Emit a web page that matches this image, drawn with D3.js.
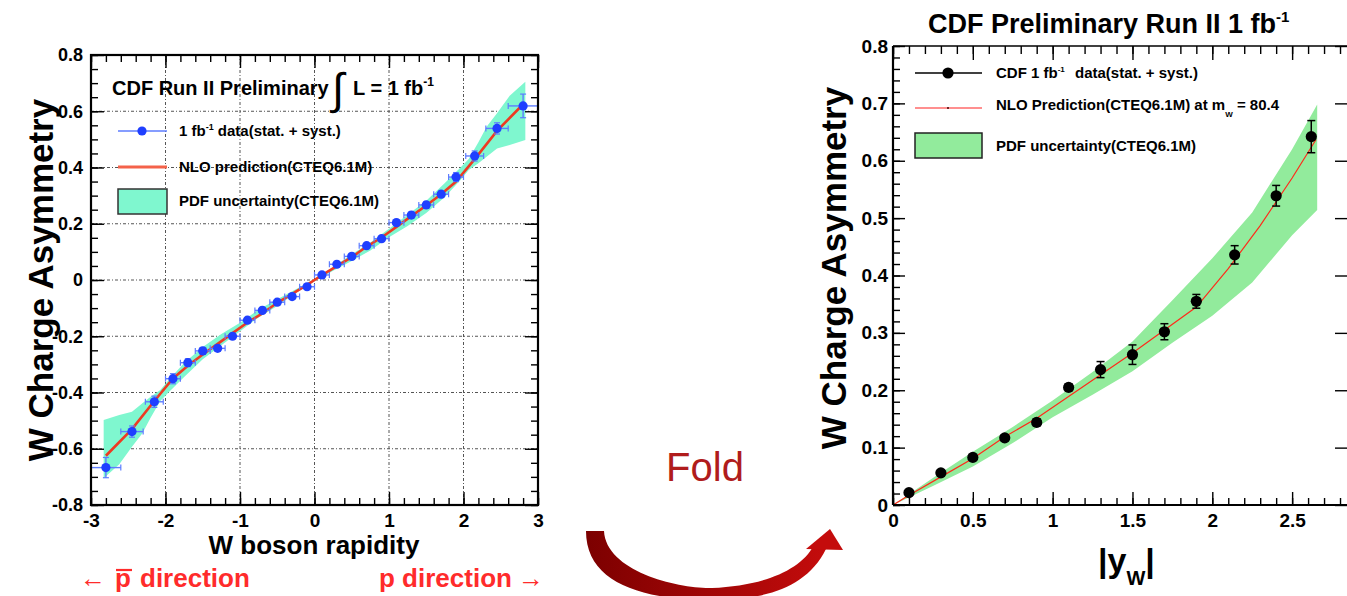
<!DOCTYPE html>
<html>
<head>
<meta charset="utf-8">
<script src="https://cdn.jsdelivr.net/npm/d3@7"></script>
<style>
  body { margin: 0; background: #fff; }
  svg text { font-family: "Liberation Sans", Arial, Helvetica, sans-serif; }
</style>
</head>
<body>
<svg id="chart" width="1347" height="596"></svg>
<script>
// ---------- W charge asymmetry vs signed W rapidity ----------
const rapidity   = [-2.8,-2.45,-2.15,-1.9,-1.7,-1.5,-1.3,-1.1,-0.9,-0.7,-0.5,-0.3,-0.1,
                     0.1, 0.3, 0.5, 0.7, 0.9, 1.1, 1.3, 1.5, 1.7, 1.9, 2.15, 2.45, 2.8];
const asymmetry  = [-0.667,-0.539,-0.433,-0.351,-0.294,-0.252,-0.243,-0.200,-0.143,-0.108,-0.079,-0.059,-0.024,
                     0.018, 0.056, 0.084, 0.122, 0.147, 0.204, 0.231, 0.267, 0.305, 0.366, 0.441, 0.539, 0.619];
const asymErr    = [0.036,0.020,0.020,0.018,0.014,0.012,0.010,0.008,0.008,0.008,0.008,0.008,0.008,
                    0.008,0.008,0.008,0.008,0.008,0.008,0.010,0.012,0.012,0.016,0.018,0.020,0.042];
const rapErr     = [0.20,0.15,0.12,0.10,0.10,0.10,0.10,0.10,0.10,0.10,0.10,0.10,0.10,
                    0.10,0.10,0.10,0.10,0.10,0.10,0.10,0.10,0.10,0.10,0.12,0.15,0.20];

// NLO prediction (CTEQ6.1M)
const nloRap  = [-2.8,-2.45,-2.15,-1.9,-1.7,-1.5,-1.3,-1.1,-0.9,-0.7,-0.5,-0.3,-0.1,0,
                  0.1,0.3,0.5,0.7,0.9,1.1,1.3,1.5,1.7,1.9,2.15,2.45,2.8];
const nloAsym = [-0.625,-0.53,-0.43,-0.35,-0.305,-0.265,-0.227,-0.189,-0.151,-0.119,-0.081,-0.049,-0.017,0,
                  0.017,0.049,0.081,0.119,0.151,0.189,0.227,0.265,0.305,0.35,0.43,0.53,0.625];

// PDF uncertainty band (CTEQ6.1M)
const pdfRap  = [-2.83,-2.62,-2.45,-2.31,-2.2,-2.07,-1.96,-1.75,-1.5,-1.25,-1.0,-0.75,-0.5,-0.25,0,
                  0.25,0.5,0.75,1.0,1.25,1.5,1.75,1.96,2.07,2.2,2.31,2.45,2.62,2.83];
const pdfLow  = [-0.705,-0.655,-0.593,-0.545,-0.49,-0.43,-0.40,-0.345,-0.282,-0.232,-0.182,-0.133,-0.092,-0.046,-0.004,
                  0.033,0.068,0.105,0.152,0.192,0.238,0.295,0.356,0.391,0.415,0.438,0.468,0.48,0.498];
const pdfHigh = [-0.498,-0.48,-0.468,-0.438,-0.415,-0.391,-0.356,-0.295,-0.238,-0.192,-0.152,-0.105,-0.068,-0.033,0.004,
                  0.046,0.092,0.133,0.182,0.232,0.282,0.345,0.40,0.43,0.49,0.545,0.593,0.655,0.705];

// ---------- folded: W charge asymmetry vs |y_W| ----------
const absRap     = [0.1,0.3,0.5,0.7,0.9,1.1,1.3,1.5,1.7,1.9,2.14,2.4,2.62];
const absAsym    = [0.0215,0.056,0.083,0.117,0.144,0.205,0.236,0.262,0.302,0.355,0.436,0.539,0.642];
const absAsymErr = [0.004,0.005,0.005,0.005,0.006,0.006,0.014,0.017,0.014,0.012,0.016,0.018,0.028];

const absNloRap  = [0,0.1,0.3,0.5,0.7,0.9,1.1,1.3,1.5,1.7,1.9,2.1,2.3,2.5,2.65];
const absNloAsym = [0,0.017,0.049,0.081,0.119,0.151,0.189,0.227,0.265,0.305,0.345,0.412,0.487,0.57,0.637];

const absPdfRap  = [0,0.25,0.5,0.75,1.0,1.25,1.5,1.75,2.0,2.25,2.5,2.657];
const absPdfLow  = [0,0.033,0.067,0.108,0.153,0.192,0.233,0.283,0.33,0.388,0.47,0.514];
const absPdfHigh = [0,0.047,0.093,0.136,0.182,0.232,0.285,0.357,0.43,0.51,0.62,0.698];

// ---------- tick labels ----------
const leftXTicks = [-3,-2,-1,0,1,2,3];
const leftXTickLabels = ["-3","-2","-1","0","1","2","3"];
const leftYTicks = [-0.8,-0.6,-0.4,-0.2,0,0.2,0.4,0.6,0.8];
const leftYTickLabels = ["-0.8","-0.6","-0.4","-0.2","0","0.2","0.4","0.6","0.8"];
const rightXTicks = [0,0.5,1,1.5,2,2.5];
const rightXTickLabels = ["0","0.5","1","1.5","2","2.5"];
const rightYTicks = [0,0.1,0.2,0.3,0.4,0.5,0.6,0.7,0.8];
const rightYTickLabels = ["0","0.1","0.2","0.3","0.4","0.5","0.6","0.7","0.8"];

// ---------- styles ----------
const LEFT_BAND = "#7ff7cf";
const RIGHT_BAND = "#92eb9c";
const BLUE = "#1f3fff";
const BLUE_ERR = "#5e7dff";
const TICK_FONT = 19;

const svg = d3.select("#chart");
svg.append("rect").attr("width", 1347).attr("height", 596).attr("fill", "#fff");

function styleAxis(sel, fontSize) {
  sel.select(".domain").remove();
  sel.selectAll(".tick line").attr("stroke", "#000").attr("stroke-width", 1.4);
  sel.selectAll(".tick text")
    .attr("fill", "#000")
    .attr("font-size", fontSize)
    .attr("font-weight", "bold")
    .attr("font-family", "'Liberation Sans', Arial, sans-serif");
}

function addAxis(parent, axis, tx, ty, fontSize) {
  parent.append("g").attr("transform", `translate(${tx},${ty})`)
    .call(axis).call(s => styleAxis(s, fontSize || TICK_FONT));
}

// =================== signed rapidity panel ===================
const xL = d3.scaleLinear().domain([-3, 3]).range([91, 538]);
const yL = d3.scaleLinear().domain([-0.8, 0.8]).range([505, 55]);
const gL = svg.append("g");

// dotted grid
gL.append("g").selectAll("line").data(leftXTicks.slice(1, -1)).join("line")
  .attr("x1", d => xL(d)).attr("x2", d => xL(d))
  .attr("y1", yL(-0.8)).attr("y2", yL(0.8))
  .attr("stroke", "#555").attr("stroke-width", 1).attr("stroke-dasharray", "3,2,1,2");
gL.append("g").selectAll("line").data(leftYTicks.slice(1, -1)).join("line")
  .attr("x1", xL(-3)).attr("x2", xL(3))
  .attr("y1", d => yL(d)).attr("y2", d => yL(d))
  .attr("stroke", "#555").attr("stroke-width", 1).attr("stroke-dasharray", "3,2,1,2");

// PDF band
const bandL = pdfRap.map((x, i) => ({ x, lo: pdfLow[i], hi: pdfHigh[i] }));
gL.append("path").datum(bandL)
  .attr("d", d3.area().x(d => xL(d.x)).y0(d => yL(d.lo)).y1(d => yL(d.hi)))
  .attr("fill", LEFT_BAND);

// NLO line
const nloL = nloRap.map((x, i) => ({ x, y: nloAsym[i] }));
gL.append("path").datum(nloL)
  .attr("d", d3.line().x(d => xL(d.x)).y(d => yL(d.y)))
  .attr("fill", "none").attr("stroke", "#ee3a22").attr("stroke-width", 2.6);

// data points with error bars
const ptsL = rapidity.map((x, i) => ({ x, y: asymmetry[i], ex: rapErr[i], ey: asymErr[i] }));
const pL = gL.append("g").selectAll("g").data(ptsL).join("g");
pL.append("line")
  .attr("x1", d => xL(d.x - d.ex)).attr("x2", d => xL(d.x + d.ex))
  .attr("y1", d => yL(d.y)).attr("y2", d => yL(d.y))
  .attr("stroke", BLUE_ERR).attr("stroke-width", 1.4);
pL.append("line")
  .attr("x1", d => xL(d.x)).attr("x2", d => xL(d.x))
  .attr("y1", d => yL(d.y - d.ey)).attr("y2", d => yL(d.y + d.ey))
  .attr("stroke", BLUE_ERR).attr("stroke-width", 1.4);
[-1, 1].forEach(s => {
  pL.append("line")
    .attr("x1", d => xL(d.x + s * d.ex)).attr("x2", d => xL(d.x + s * d.ex))
    .attr("y1", d => yL(d.y) - 3).attr("y2", d => yL(d.y) + 3)
    .attr("stroke", BLUE_ERR).attr("stroke-width", 1.2);
  pL.append("line")
    .attr("x1", d => xL(d.x) - 3).attr("x2", d => xL(d.x) + 3)
    .attr("y1", d => yL(d.y + s * d.ey)).attr("y2", d => yL(d.y + s * d.ey))
    .attr("stroke", BLUE_ERR).attr("stroke-width", 1.2);
});
pL.append("circle")
  .attr("cx", d => xL(d.x)).attr("cy", d => yL(d.y)).attr("r", 4.6)
  .attr("fill", BLUE);

// ticks (inward, on all four sides)
const lxMinor = d3.range(-3, 3.001, 0.2);
const lyMinor = d3.range(-0.8, 0.8001, 0.05);
addAxis(gL, d3.axisBottom(xL).tickValues(leftXTicks).tickFormat((d, i) => leftXTickLabels[i]).tickSize(-13).tickSizeOuter(0).tickPadding(9), 0, 505);
addAxis(gL, d3.axisBottom(xL).tickValues(lxMinor).tickFormat("").tickSize(-7).tickSizeOuter(0), 0, 505);
addAxis(gL, d3.axisTop(xL).tickValues(leftXTicks).tickFormat("").tickSize(-13).tickSizeOuter(0), 0, 55);
addAxis(gL, d3.axisTop(xL).tickValues(lxMinor).tickFormat("").tickSize(-7).tickSizeOuter(0), 0, 55);
addAxis(gL, d3.axisLeft(yL).tickValues(leftYTicks).tickFormat((d, i) => leftYTickLabels[i]).tickSize(-13).tickSizeOuter(0).tickPadding(8), 91, 0, 18);
addAxis(gL, d3.axisLeft(yL).tickValues(lyMinor).tickFormat("").tickSize(-7).tickSizeOuter(0), 91, 0);
addAxis(gL, d3.axisRight(yL).tickValues(leftYTicks).tickFormat("").tickSize(-13).tickSizeOuter(0), 538, 0);
addAxis(gL, d3.axisRight(yL).tickValues(lyMinor).tickFormat("").tickSize(-7).tickSizeOuter(0), 538, 0);

// frame
gL.append("rect").attr("x", xL(-3)).attr("y", yL(0.8))
  .attr("width", xL(3) - xL(-3)).attr("height", yL(-0.8) - yL(0.8))
  .attr("fill", "none").attr("stroke", "#000").attr("stroke-width", 2.2);

// axis titles
gL.append("text").attr("transform", "translate(53,280) rotate(-90)")
  .attr("text-anchor", "middle").attr("font-size", 35).attr("font-weight", "bold")
  .text("W Charge Asymmetry");
gL.append("text").attr("x", 314).attr("y", 554)
  .attr("text-anchor", "middle").attr("font-size", 26).attr("font-weight", "bold")
  .text("W boson rapidity");

// direction hints
const RED = "#ff2b2b";
gL.append("text").attr("x", 80).attr("y", 587).attr("fill", RED).attr("font-size", 26).text("\u2190");
gL.append("text").attr("x", 115).attr("y", 587).attr("fill", RED).attr("font-size", 26).attr("font-weight", "bold").text("p");
gL.append("line").attr("x1", 116).attr("x2", 132).attr("y1", 570).attr("y2", 570).attr("stroke", RED).attr("stroke-width", 2.2);
gL.append("text").attr("x", 140).attr("y", 587).attr("fill", RED).attr("font-size", 26).attr("font-weight", "bold").text("direction");
gL.append("text").attr("x", 379).attr("y", 587).attr("fill", RED).attr("font-size", 26).attr("font-weight", "bold").text("p direction");
gL.append("text").attr("x", 518).attr("y", 587).attr("fill", RED).attr("font-size", 26).text("\u2192");

// legend
const lg = gL.append("g");
lg.append("text").attr("x", 112).attr("y", 95).attr("font-size", 20).attr("font-weight", "bold")
  .text("CDF Run II Preliminary");
lg.append("text").attr("x", 332).attr("y", 104).attr("font-size", 44).attr("font-family", "'DejaVu Sans', sans-serif")
  .text("\u222B");
const lumi = lg.append("text").attr("x", 353).attr("y", 95).attr("font-size", 20).attr("font-weight", "bold");
lumi.append("tspan").text("L = 1 fb");
lumi.append("tspan").attr("dy", -9).attr("font-size", 12).text("-1");

lg.append("line").attr("x1", 118).attr("x2", 167).attr("y1", 131).attr("y2", 131).attr("stroke", BLUE_ERR).attr("stroke-width", 1.5);
lg.append("circle").attr("cx", 142).attr("cy", 131).attr("r", 4.6).attr("fill", BLUE);
const t1 = lg.append("text").attr("x", 179).attr("y", 136).attr("font-size", 15).attr("font-weight", "bold");
t1.append("tspan").text("1 fb");
t1.append("tspan").attr("dy", -6).attr("font-size", 9).text("-1");
t1.append("tspan").attr("dy", 6).text(" data(stat. + syst.)");

lg.append("line").attr("x1", 118).attr("x2", 167).attr("y1", 167).attr("y2", 167).attr("stroke", "#f4624a").attr("stroke-width", 3);
lg.append("text").attr("x", 179).attr("y", 172).attr("font-size", 15).attr("font-weight", "bold")
  .text("NLO prediction(CTEQ6.1M)");

lg.append("rect").attr("x", 118).attr("y", 189).attr("width", 49).attr("height", 25)
  .attr("fill", LEFT_BAND).attr("stroke", "#333").attr("stroke-width", 1.5);
lg.append("text").attr("x", 179).attr("y", 206).attr("font-size", 15).attr("font-weight", "bold")
  .text("PDF uncertainty(CTEQ6.1M)");

// =================== fold arrow ===================
const grad = svg.append("defs").append("linearGradient").attr("id", "foldGrad")
  .attr("x1", "0%").attr("x2", "100%").attr("y1", "0%").attr("y2", "0%");
grad.append("stop").attr("offset", "0%").attr("stop-color", "#7c0000");
grad.append("stop").attr("offset", "100%").attr("stop-color", "#c40c0c");
svg.append("path")
  .attr("d", "M586,531 L604,531 C606,572 680,589 712,588 C760,586 800,572 814,545 L826,549 C806,590 760,600 712,600 C640,600 586,582 586,531 Z")
  .attr("fill", "url(#foldGrad)");
svg.append("path").attr("d", "M806,549 L830,529 L843,550 Z").attr("fill", "#c40c0c");
svg.append("text").attr("x", 705).attr("y", 481).attr("text-anchor", "middle")
  .attr("font-size", 40).attr("fill", "#b01c1c").text("Fold");

// =================== folded |y_W| panel ===================
const xR = d3.scaleLinear().domain([0, 2.85]).range([893, 1348]);
const yR = d3.scaleLinear().domain([0, 0.8]).range([505, 46]);
const gR = svg.append("g");

const bandR = absPdfRap.map((x, i) => ({ x, lo: absPdfLow[i], hi: absPdfHigh[i] }));
gR.append("path").datum(bandR)
  .attr("d", d3.area().x(d => xR(d.x)).y0(d => yR(d.lo)).y1(d => yR(d.hi)))
  .attr("fill", RIGHT_BAND);

const nloR = absNloRap.map((x, i) => ({ x, y: absNloAsym[i] }));
gR.append("path").datum(nloR)
  .attr("d", d3.line().x(d => xR(d.x)).y(d => yR(d.y)))
  .attr("fill", "none").attr("stroke", "#ff2a1a").attr("stroke-width", 1.2);

const ptsR = absRap.map((x, i) => ({ x, y: absAsym[i], ey: absAsymErr[i] }));
const pR = gR.append("g").selectAll("g").data(ptsR).join("g");
pR.append("line")
  .attr("x1", d => xR(d.x)).attr("x2", d => xR(d.x))
  .attr("y1", d => yR(d.y - d.ey)).attr("y2", d => yR(d.y + d.ey))
  .attr("stroke", "#000").attr("stroke-width", 1.5);
[-1, 1].forEach(s => {
  pR.append("line")
    .attr("x1", d => xR(d.x) - 4).attr("x2", d => xR(d.x) + 4)
    .attr("y1", d => yR(d.y + s * d.ey)).attr("y2", d => yR(d.y + s * d.ey))
    .attr("stroke", "#000").attr("stroke-width", 1.5);
});
pR.append("circle")
  .attr("cx", d => xR(d.x)).attr("cy", d => yR(d.y)).attr("r", 5.6)
  .attr("fill", "#000");

const rxMinor = d3.range(0, 2.851, 0.1);
const ryMinor = d3.range(0, 0.8001, 0.02);
addAxis(gR, d3.axisBottom(xR).tickValues(rightXTicks).tickFormat((d, i) => rightXTickLabels[i]).tickSize(-13).tickSizeOuter(0).tickPadding(9), 0, 505);
addAxis(gR, d3.axisBottom(xR).tickValues(rxMinor).tickFormat("").tickSize(-7).tickSizeOuter(0), 0, 505);
addAxis(gR, d3.axisTop(xR).tickValues(rightXTicks).tickFormat("").tickSize(-14).tickSizeOuter(0), 0, 46);
addAxis(gR, d3.axisTop(xR).tickValues(rxMinor).tickFormat("").tickSize(-8).tickSizeOuter(0), 0, 46);
addAxis(gR, d3.axisLeft(yR).tickValues(rightYTicks).tickFormat((d, i) => rightYTickLabels[i]).tickSize(-12).tickSizeOuter(0).tickPadding(5), 893, 0);
addAxis(gR, d3.axisLeft(yR).tickValues(ryMinor).tickFormat("").tickSize(-7).tickSizeOuter(0), 893, 0);
addAxis(gR, d3.axisRight(yR).tickValues(rightYTicks).tickFormat("").tickSize(-13).tickSizeOuter(0), 1348, 0);

gR.append("line").attr("x1", 893).attr("x2", 1348).attr("y1", 505).attr("y2", 505).attr("stroke", "#000").attr("stroke-width", 2.2);
gR.append("line").attr("x1", 893).attr("x2", 893).attr("y1", 46).attr("y2", 505).attr("stroke", "#000").attr("stroke-width", 2.2);
gR.append("line").attr("x1", 893).attr("x2", 1348).attr("y1", 46).attr("y2", 46).attr("stroke", "#000").attr("stroke-width", 1.6);

// titles
const ttl = gR.append("text").attr("x", 928).attr("y", 33).attr("font-size", 27).attr("font-weight", "bold");
ttl.append("tspan").text("CDF Preliminary Run II 1 fb");
ttl.append("tspan").attr("dy", -11).attr("font-size", 15).text("-1");

gR.append("text").attr("transform", "translate(846,268) rotate(-90)")
  .attr("text-anchor", "middle").attr("font-size", 35).attr("font-weight", "bold")
  .text("W Charge Asymmetry");

const xt = gR.append("text").attr("x", 1098).attr("y", 572).attr("font-size", 34).attr("font-weight", "bold");
xt.append("tspan").text("|y");
xt.append("tspan").attr("dy", 13).attr("font-size", 20).text("W");
xt.append("tspan").attr("dy", -13).text("|");

// legend
const rg = gR.append("g");
rg.append("line").attr("x1", 915).attr("x2", 982).attr("y1", 73).attr("y2", 73).attr("stroke", "#000").attr("stroke-width", 1.6);
rg.append("circle").attr("cx", 948).attr("cy", 73).attr("r", 5.6).attr("fill", "#000");
const r1 = rg.append("text").attr("x", 996).attr("y", 78).attr("font-size", 15).attr("font-weight", "bold");
r1.append("tspan").text("CDF 1 fb");
r1.append("tspan").attr("dy", -6).attr("font-size", 8).text("-1");
r1.append("tspan").attr("dy", 6).attr("dx", 6).text(" data(stat. + syst.)");

rg.append("line").attr("x1", 915).attr("x2", 982).attr("y1", 108).attr("y2", 108).attr("stroke", "#ff6a6a").attr("stroke-width", 1.4);
rg.append("circle").attr("cx", 948).attr("cy", 108).attr("r", 1).attr("fill", "#400");
const r2 = rg.append("text").attr("x", 996).attr("y", 110).attr("font-size", 15).attr("font-weight", "bold");
r2.append("tspan").text("NLO Prediction(CTEQ6.1M) at m");
r2.append("tspan").attr("dy", 7).attr("font-size", 8).text("W");
r2.append("tspan").attr("dy", -7).text(" = 80.4");

rg.append("rect").attr("x", 915).attr("y", 133).attr("width", 67).attr("height", 25)
  .attr("fill", RIGHT_BAND).attr("stroke", "#222").attr("stroke-width", 1.5);
rg.append("text").attr("x", 996).attr("y", 151).attr("font-size", 15).attr("font-weight", "bold")
  .text("PDF uncertainty(CTEQ6.1M)");
</script>
</body>
</html>
